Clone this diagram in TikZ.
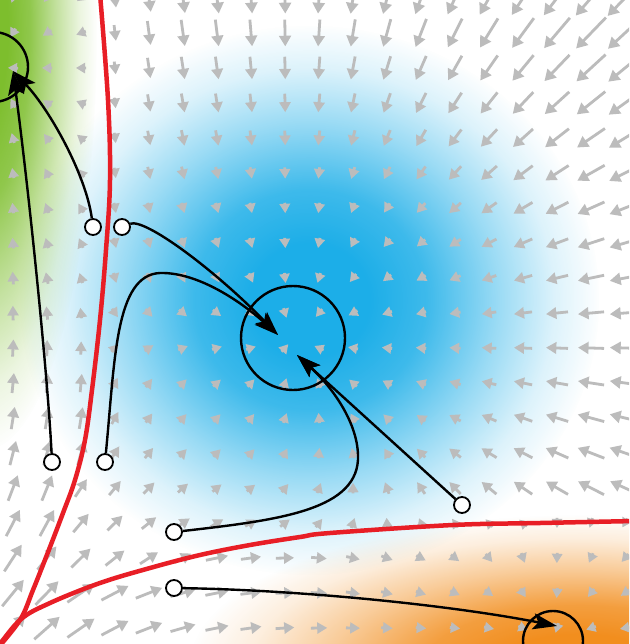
\documentclass[tikz,border=0pt]{standalone}
\usepackage{tikz}
\usetikzlibrary{arrows.meta,fadings}

\definecolor{fieldgray}{RGB}{188,188,188}
\definecolor{sepred}{RGB}{232,30,38}
\definecolor{basinblue}{RGB}{28,174,232}
\definecolor{basingreen}{RGB}{125,190,45}
\definecolor{basinorange}{RGB}{242,142,30}

\tikzset{
	fieldarrow/.style={fieldgray, line width=2.8pt},
	separatrix/.style={sepred, line width=4.5pt, line cap=round},
	trajectory/.style={black, line width=2.4pt, -{Stealth[length=24pt,width=16pt,inset=5pt]}},
	startpt/.style={circle, draw=black, fill=white, line width=1.8pt, minimum size=16pt, inner sep=0pt},
	attractor/.style={circle, draw=black, line width=2.4pt, inner sep=0pt},
}

% soft edge for the coloured basins (white = opaque, black = clear, 25bp = edge of the path)
\pgfdeclareradialshading{softbasinshade}{\pgfpointorigin}{%
	color(0bp)=(white); color(5bp)=(white); color(10bp)=(black!15);
	color(16bp)=(black!55); color(21bp)=(black!85); color(25bp)=(black); color(50bp)=(black)}
\pgfdeclarefading{softbasin}{\pgfuseshading{softbasinshade}}

% red separatrices sampled on the arrow grid
%   x of the vertical one on each row, y of the horizontal one on each column
\def\sepx{{14,32,45,59,72,82,88,93,97,101,104,107,109,110,110,108,106,103,100}}
\def\sepy{{626,604,590,578,568,559,551,545,539,535,531,529,527,525,524,523,522,522,521}}
%   their directions (degrees)
\def\sepxang{{63,66,69,69,72,77,81,83,83,84,86,87,89,90,90,92,93,95,95}}
\def\sepyang{{33,28,21,18,16,14,12,10,8,7,5,3,2,2,1,1,1,1,1}}

\begin{document}
\begin{tikzpicture}[x=1pt, y=-1pt]
	
	\useasboundingbox (0,0) rectangle (629,644);
	\clip (0,0) rectangle (629,644);
	\fill[white] (0,0) rectangle (629,644);
	
	%%%%%%%%%%%%%%%%%%%%%%%%%%%%%%%%%%%%%%%%%%%%%%%%%%%%%%%%%%%%%%
	% basins
	\fill[basinblue, path fading=softbasin] (310,300) ellipse (290 and 275);
	\fill[basingreen, path fading=softbasin] (-15,30) ellipse (112 and 420);
	\fill[basinorange, path fading=softbasin] (580,665) ellipse (390 and 150);
	
	%%%%%%%%%%%%%%%%%%%%%%%%%%%%%%%%%%%%%%%%%%%%%%%%%%%%%%%%%%%%%%
	% vector field (grid in px, y pointing down)
	\foreach \i in {0,...,18}{
		\foreach \j in {0,...,18}{
			\pgfmathsetmacro\px{13+34*\i}
			\pgfmathsetmacro\py{628-35*\j}
			\pgfmathsetmacro\xv{\sepx[\j]}
			\pgfmathsetmacro\yh{\sepy[\i]}
			\pgfmathsetmacro\angv{\sepxang[\j]}
			\pgfmathsetmacro\angh{\sepyang[\i]}
			% 1 green, 2 blue, 3 orange
			\pgfmathsetmacro\basin{(\px<\xv) ? 1 : ((\py>\yh) ? 3 : 2)}
			\pgfmathsetmacro\ax{(\basin==1) ? -7 : ((\basin==3) ? 553 : 293)}
			\pgfmathsetmacro\ay{(\basin==1) ? 67 : ((\basin==3) ? 641 : 338)}
			% in hundreds of px, keeps pgfmath small
			\pgfmathsetmacro\dx{(\ax-\px)/100}
			\pgfmathsetmacro\dy{(\ay-\py)/100}
			\pgfmathsetmacro\dd{max(veclen(\dx,\dy),0.01)}
			\pgfmathsetmacro\dv{abs(\px-\xv)}
			\pgfmathsetmacro\dh{abs(\py-\yh)}
			% pull along the separatrices
			\pgfmathsetmacro\wu{4*exp(-min(\dv/60+max(0,360-\py)/30,9))}
			\pgfmathsetmacro\wd{(\basin==2) ? 4*exp(-min(\dv/80+max(0,\py-300)/30,9)) : 0}
			\pgfmathsetmacro\wh{4*exp(-min(\dh/60+max(0,\px-250)/60,9))}
			\pgfmathsetmacro\sx{(\dx)/\dd+\wu*cos(\angv)+\wh*cos(\angh)}
			\pgfmathsetmacro\sy{(\dy)/\dd-\wu*sin(\angv)-\wh*sin(\angh)+\wd}
			\pgfmathsetmacro\sn{max(veclen(\sx,\sy),0.001)}
			% source in the corner
			\pgfmathsetmacro\wc{exp(-min(veclen(\px/100,(644-\py)/100)/0.9,9))}
			\pgfmathsetmacro\ex{\wc*0.7071+(1-\wc)*(\sx)/\sn}
			\pgfmathsetmacro\ey{-\wc*0.7071+(1-\wc)*(\sy)/\sn}
			\pgfmathsetmacro\en{max(veclen(\ex,\ey),0.001)}
			% length, head grows a little with it
			\pgfmathsetmacro\len{(\basin==1) ? 6.5*\dd : ((\basin==3) ? min(7*\dd,34) : 50*(\dd/4.75)^1.4)}
			\pgfmathsetmacro\att{(1-0.7*exp(-min(\dv/40+max(0,\py-330)/40,9)))*(1-0.8*exp(-min(\dh/12+max(0,330-\px)/60,9)))}
			\pgfmathsetmacro\headn{min(9+0.06*\len*\att,11)}
			\pgfmathsetlengthmacro\headl{\headn pt}
			\pgfmathsetlengthmacro\headw{1.1*\headn pt}
			\pgfmathsetmacro\hl{max(\len*\att,\headn+1)/2}
			\pgfmathsetmacro\hx{\hl*(\ex)/\en}
			\pgfmathsetmacro\hy{\hl*(\ey)/\en}
			\draw[fieldarrow, -{Triangle[length=\headl, width=\headw]}] (\px-\hx,\py-\hy) -- (\px+\hx,\py+\hy);
		}
	}
	
	%%%%%%%%%%%%%%%%%%%%%%%%%%%%%%%%%%%%%%%%%%%%%%%%%%%%%%%%%%%%%%
	% separatrices
	\draw[separatrix] plot[smooth, tension=0.6] coordinates {(-4,650) (20,620) (33,590) (50,547) (63,513) (75,480) (85,440) (92,390) (100,320) (106,250) (110,180) (108,100) (100,-6)};
	\draw[separatrix] plot[smooth, tension=0.6] coordinates {(-4,650) (20,620) (50,603) (100,583) (150,568) (200,555) (250,545) (300,537) (330,533) (453,525) (540,523) (635,521)};
	
	%%%%%%%%%%%%%%%%%%%%%%%%%%%%%%%%%%%%%%%%%%%%%%%%%%%%%%%%%%%%%%
	% attractors
	\node[attractor, minimum size=70pt] (G) at (-7,67) {};
	\node[attractor, minimum size=104pt] (B) at (293,338) {};
	\node[attractor, minimum size=60pt] (O) at (553,641) {};
	
	% where the trajectories end
	\coordinate (tG) at (13,71);
	\coordinate (tB1) at (278,335);
	\coordinate (tB2) at (297,355);
	\coordinate (tO) at (557,626);
	
	% starting points
	\node[startpt] (s1) at (93,227) {};
	\node[startpt] (s2) at (52,462) {};
	\node[startpt] (s3) at (122,227) {};
	\node[startpt] (s4) at (105,462) {};
	\node[startpt] (s5) at (174,532) {};
	\node[startpt] (s6) at (462,505) {};
	\node[startpt] (s7) at (174,588) {};
	
	% trajectories
	\draw[trajectory] (s1) .. controls (86,175) and (50,110) .. (tG);
	\draw[trajectory] (s2) .. controls (48,380) and (30,200) .. (tG);
	\draw[trajectory] (s3) .. controls (145,218) and (215,270) .. (tB1);
	\draw[trajectory] (s4) .. controls (115,360) and (115,275) .. (160,273) .. controls (200,272) and (245,305) .. (tB1);
	\draw[trajectory] (s5) .. controls (280,520) and (360,510) .. (358,455) .. controls (357,420) and (330,385) .. (tB2);
	\draw[trajectory] (s6) -- (tB2);
	\draw[trajectory] (s7) .. controls (300,590) and (450,605) .. (tO);
	
\end{tikzpicture}
\end{document}
